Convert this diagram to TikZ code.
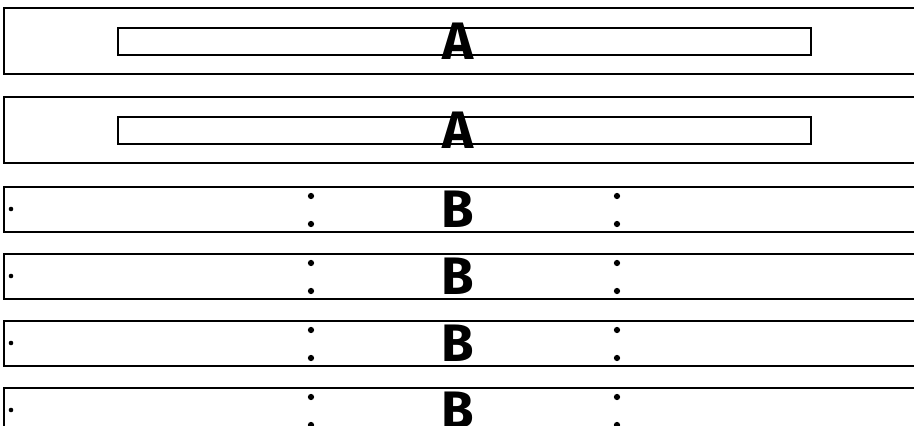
\documentclass[tikz,border=0pt]{standalone}
\usepackage{fontspec}
\newfontfamily\lblfont{Fira Sans}
\usetikzlibrary{positioning}

\begin{document}
\begin{tikzpicture}[x=0.02cm,y=-0.02cm,
  outerbox/.style={draw,line width=1.6pt},
  innerbar/.style={draw,line width=1.1pt},
  bigletter/.style={inner sep=0pt,anchor=base,font=\lblfont\bfseries\fontsize{30}{30}\selectfont},
  pin/.style={circle,fill,inner sep=0pt,minimum size=2.6pt},
  ring/.style={circle,draw,fill,line width=0.5pt,inner sep=0pt,minimum size=3pt}]
  \useasboundingbox (0,0) rectangle (914,426);
  \clip (0,0) rectangle (914,426);
  % A rows
  \foreach \t/\n in {8/1,97/2} {
    \draw[outerbox] (4,\t) rectangle (930,\t+66);
    \draw[innerbar] (118,\t+20) rectangle (811,\t+47);
    \node[bigletter] (a\n) at (458,\t+51.5) {A};
  }
  % B rows
  \foreach \t/\n in {187/1,254/2,321/3,388/4} {
    \draw[outerbox] (4,\t) rectangle (930,\t+45);
    \node[pin] (l\n) at (11,\t+22) {};
    \node[ring] (mt\n) at (311,\t+9) {};
    \node[ring] (mb\n) at (311,\t+37) {};
    \node[ring] (rt\n) at (617,\t+9) {};
    \node[ring] (rb\n) at (617,\t+37) {};
    \node[bigletter] (b\n) at (458,\t+40) {B};
  }
\end{tikzpicture}
\end{document}
